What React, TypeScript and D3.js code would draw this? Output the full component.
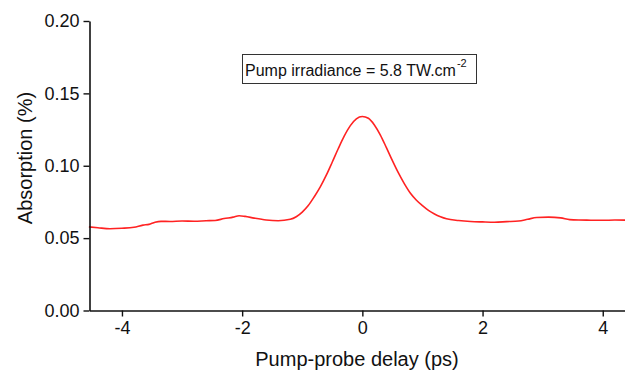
import React, { useEffect, useRef } from 'react'
import { select, scaleLinear, axisLeft, axisBottom, line, curveMonotoneX, format } from 'd3'

// pump-probe delay (ps) and absorption (%)
const delay = [
  -4.55, -4.4, -4.2, -4.0, -3.8, -3.65, -3.55, -3.45, -3.35, -3.2, -3.0, -2.8, -2.6, -2.45,
  -2.3, -2.15, -2.05, -1.95, -1.8, -1.6, -1.4, -1.2, -1.1, -1.0, -0.9, -0.8, -0.7, -0.6,
  -0.5, -0.4, -0.3, -0.2, -0.1, 0, 0.1, 0.2, 0.3, 0.4, 0.5, 0.6, 0.7, 0.8, 0.9, 1.0, 1.1,
  1.2, 1.3, 1.4, 1.6, 1.8, 2.0, 2.2, 2.4, 2.6, 2.75, 2.9, 3.1, 3.3, 3.45, 3.6, 3.8, 4.0,
  4.2, 4.5,
]
const absorption = [
  0.0578, 0.0572, 0.0565, 0.0568, 0.0575, 0.059, 0.0595, 0.061, 0.0616, 0.0615, 0.0618,
  0.0617, 0.062, 0.0622, 0.0635, 0.0645, 0.0655, 0.065, 0.0638, 0.0625, 0.062, 0.063,
  0.0648, 0.068, 0.0725, 0.0786, 0.0854, 0.0935, 0.1026, 0.1119, 0.1206, 0.1277, 0.1324,
  0.134, 0.1328, 0.1282, 0.1212, 0.1125, 0.1035, 0.095, 0.0875, 0.081, 0.0762, 0.0725,
  0.0692, 0.0667, 0.0648, 0.0634, 0.0622, 0.0615, 0.0612, 0.061, 0.0614, 0.0618, 0.063,
  0.0642, 0.0645, 0.064, 0.0628, 0.0625, 0.0624, 0.0623, 0.0625, 0.0624,
]
const xTicks = [-4, -2, 0, 2, 4]
const yTicks = [0, 0.05, 0.1, 0.15, 0.2]
const xDomain = [-4.54, 4.5]
const yDomain = [0, 0.2]

const FONT = '"Liberation Sans", Arial, Helvetica, sans-serif'

export default function App() {
  const ref = useRef<SVGSVGElement>(null)

  useEffect(() => {
    document.body.style.margin = '0'
    const width = 625
    const height = 371
    const m = { l: 89.5, t: 21, b: 310.5 }
    const unit = 60.1

    const svg = select(ref.current)
    svg.selectAll('*').remove()

    const x = scaleLinear().domain(xDomain).range([m.l, m.l + (xDomain[1] - xDomain[0]) * unit])
    const y = scaleLinear().domain(yDomain).range([m.b, m.t])

    // trace
    const pts = delay.map((d, i) => [d, absorption[i]] as [number, number])
    const path = line<[number, number]>()
      .x((d) => x(d[0]))
      .y((d) => y(d[1]))
      .curve(curveMonotoneX)
    svg.append('path')
      .attr('d', path(pts))
      .attr('fill', 'none')
      .attr('stroke', '#ff2222')
      .attr('stroke-width', 1.6)

    // axes
    const xAxis = axisBottom(x).tickValues(xTicks).tickSize(6).tickSizeOuter(0).tickPadding(5)
      .tickFormat((d) => String(d))
    const yAxis = axisLeft(y).tickValues(yTicks).tickSize(6).tickSizeOuter(0).tickPadding(4)
      .tickFormat(format('.2f'))

    const gx = svg.append('g').attr('transform', `translate(0,${m.b})`).call(xAxis)
    const gy = svg.append('g').attr('transform', `translate(${m.l},0)`).call(yAxis)
    ;[gx, gy].forEach((g) => {
      g.attr('font-family', FONT).attr('font-size', 18)
      g.selectAll('path.domain').attr('stroke', '#111').attr('stroke-width', 1.6)
      g.selectAll('.tick line').attr('stroke', '#111').attr('stroke-width', 1.4)
      g.selectAll('.tick text').attr('fill', '#111')
    })

    // axis titles
    svg.append('text')
      .attr('x', 357).attr('y', 366)
      .attr('text-anchor', 'middle')
      .attr('font-family', FONT).attr('font-size', 20).attr('fill', '#111')
      .text('Pump-probe delay (ps)')
    svg.append('text')
      .attr('transform', `translate(32,158) rotate(-90)`)
      .attr('text-anchor', 'middle')
      .attr('font-family', FONT).attr('font-size', 20).attr('fill', '#111')
      .text('Absorption (%)')

    // annotation box
    svg.append('rect')
      .attr('x', 242.5).attr('y', 54.5).attr('width', 234).attr('height', 29)
      .attr('fill', 'white').attr('stroke', '#333').attr('stroke-width', 1)
    const t = svg.append('text')
      .attr('x', 245).attr('y', 76)
      .attr('font-family', FONT).attr('font-size', 16).attr('fill', '#111')
    t.append('tspan').text('Pump irradiance = 5.8 TW.cm')
    t.append('tspan').attr('dy', -9).attr('dx', 1).attr('font-size', 11).text('-2')

    svg.attr('width', width).attr('height', height)
  }, [])

  return <svg ref={ref} width={625} height={371} style={{ display: 'block', background: 'white' }} />
}
